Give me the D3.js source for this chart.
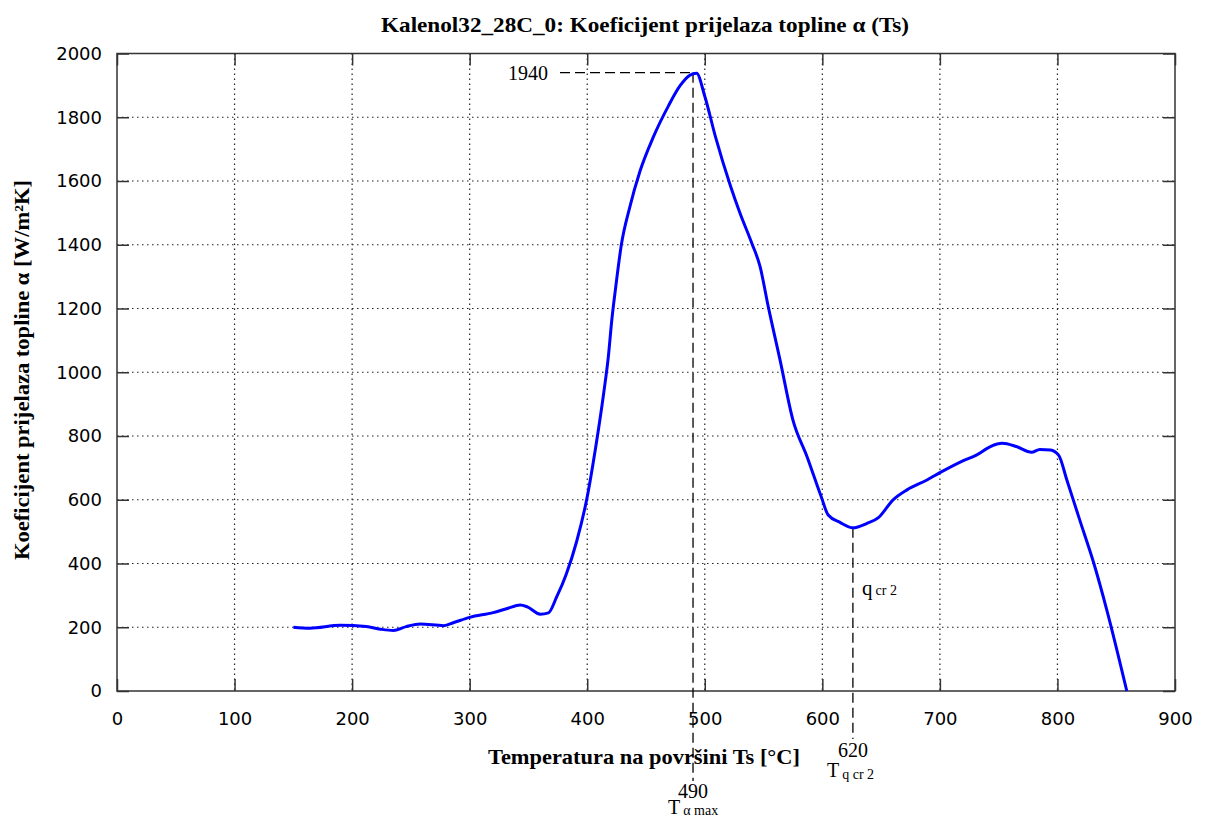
<!DOCTYPE html>
<html>
<head>
<meta charset="utf-8">
<script src="https://cdn.jsdelivr.net/npm/d3@7"></script>
<style>
  html, body { margin: 0; padding: 0; background: #fff; }
  svg { display: block; }
</style>
</head>
<body>
<svg id="chart" width="1208" height="822"></svg>
<script>
// ---- data ----
const temperature = [150,164,190,212,224,235,246,258,278,286,300,320,332,343,349,360,367,374,382,391,400,407,414,418,421,424,429,436,445,456,469,479,487,493,500,509,522,530,540,547,554,564,575,587,599,605,615,626,638,648,660,672,689,700,720,731,743,753,765,778,785,794,801,808,819,831,842,859];
const alpha = [200,197,206,202,194,190,202,210,205,214,231,246,259,270,264,241,245,295,365,469,609,760,934,1050,1167,1260,1399,1515,1632,1736,1835,1899,1931,1938,1866,1740,1583,1499,1405,1332,1206,1039,850,735,610,552,529,512,526,545,599,631,662,685,723,740,767,777,767,749,758,756,740,662,536,400,254,0];
const xTicks = [0,100,200,300,400,500,600,700,800,900];
const yTicks = [0,200,400,600,800,1000,1200,1400,1600,1800,2000];
const alphaMax = 1940, tAlphaMax = 490;
const qcr2Value = 512, tQcr2Pos = 626, tQcr2Label = "620";
const titleText = "Kalenol32_28C_0: Koeficijent prijelaza topline α (Ts)";
const xLabelText = "Temperatura na površini Ts [°C]";
const yLabelText = "Koeficijent prijelaza topline α [W/m²K]";

// ---- layout ----
const L = 117, R = 1175, T = 53.5, B = 691;
const svg = d3.select("#chart");
const x = d3.scaleLinear().domain([0, 900]).range([L, R]);
const y = d3.scaleLinear().domain([0, 2000]).range([B, T]);

const serif = "'Liberation Serif', 'Times New Roman', serif";
const sans = "'DejaVu Sans', Verdana, sans-serif";

// grid
const grid = svg.append("g");
grid.selectAll("line.gx").data(xTicks.slice(1, -1)).enter().append("line")
  .attr("x1", d => x(d)).attr("x2", d => x(d)).attr("y1", T).attr("y2", B)
  .attr("stroke", "#222").attr("stroke-width", 1.2).attr("stroke-dasharray", "1.5,3.5");
grid.selectAll("line.gy").data(yTicks.slice(1, -1)).enter().append("line")
  .attr("y1", d => y(d)).attr("y2", d => y(d)).attr("x1", L).attr("x2", R)
  .attr("stroke", "#222").attr("stroke-width", 1.2).attr("stroke-dasharray", "1.5,3.5");

// axes (ticks inward on all four sides)
const tickLen = 12;
const axB = svg.append("g").attr("transform", `translate(0,${B})`)
  .call(d3.axisBottom(x).tickValues(xTicks).tickSize(-tickLen).tickPadding(21).tickFormat(d3.format("d")));
const axT = svg.append("g").attr("transform", `translate(0,${T})`)
  .call(d3.axisTop(x).tickValues(xTicks).tickSize(-tickLen).tickFormat(""));
const axL = svg.append("g").attr("transform", `translate(${L},0)`)
  .call(d3.axisLeft(y).tickValues(yTicks).tickSize(-tickLen).tickPadding(15).tickFormat(d3.format("d")));
const axR = svg.append("g").attr("transform", `translate(${R},0)`)
  .call(d3.axisRight(y).tickValues(yTicks).tickSize(-tickLen).tickFormat(""));
[axB, axT, axL, axR].forEach(a => {
  a.select(".domain").remove();
  a.selectAll(".tick line").attr("stroke", "#333").attr("stroke-width", 1.5);
  a.selectAll(".tick text").attr("font-family", sans).attr("font-size", 18).attr("fill", "#000");
});
axB.selectAll(".tick text").attr("dy", "0.71em");

// frame
svg.append("rect").attr("x", L).attr("y", T).attr("width", R - L).attr("height", B - T)
  .attr("fill", "none").attr("stroke", "#333").attr("stroke-width", 1.5);

// marker dashed lines
const dash = "10,5";
svg.append("line").attr("x1", 560).attr("x2", x(tAlphaMax)).attr("y1", y(alphaMax)).attr("y2", y(alphaMax))
  .attr("stroke", "#000").attr("stroke-width", 1.3).attr("stroke-dasharray", dash);
svg.append("line").attr("x1", x(tAlphaMax)).attr("x2", x(tAlphaMax)).attr("y1", y(alphaMax)).attr("y2", 781)
  .attr("stroke", "#000").attr("stroke-width", 1.3).attr("stroke-dasharray", dash);
svg.append("line").attr("x1", x(tQcr2Pos)).attr("x2", x(tQcr2Pos)).attr("y1", y(qcr2Value)).attr("y2", 739)
  .attr("stroke", "#000").attr("stroke-width", 1.3).attr("stroke-dasharray", dash);

// curve
const line = d3.line().x((d, i) => x(temperature[i])).y(d => y(d)).curve(d3.curveMonotoneX);
svg.append("path").datum(alpha).attr("d", line)
  .attr("fill", "none").attr("stroke", "#0000ff").attr("stroke-width", 3).attr("stroke-linejoin", "round");

// annotations
svg.append("text").attr("x", 548).attr("y", y(alphaMax) + 7).attr("text-anchor", "end")
  .attr("font-family", serif).attr("font-size", 20).text(String(alphaMax));

const q = svg.append("text").attr("x", 862).attr("y", 595).attr("font-family", serif).attr("font-size", 21);
q.append("tspan").text("q");
q.append("tspan").attr("font-size", 14).attr("dx", 3).text("cr 2");

svg.append("text").attr("x", x(tQcr2Pos)).attr("y", 757).attr("text-anchor", "middle")
  .attr("font-family", serif).attr("font-size", 20).text(tQcr2Label);
const tq = svg.append("text").attr("x", 827).attr("y", 777).attr("font-family", serif).attr("font-size", 20);
tq.append("tspan").text("T");
tq.append("tspan").attr("font-size", 14).attr("dx", 3).attr("dy", 2).text("q cr 2");

svg.append("text").attr("x", x(tAlphaMax)).attr("y", 798).attr("text-anchor", "middle")
  .attr("font-family", serif).attr("font-size", 20).text(String(tAlphaMax));
const ta = svg.append("text").attr("x", 668).attr("y", 814).attr("font-family", serif).attr("font-size", 20);
ta.append("tspan").text("T");
ta.append("tspan").attr("font-size", 14).attr("dx", 3).attr("dy", 1).text("α max");

// title and axis labels
svg.append("text").attr("x", 645).attr("y", 32).attr("text-anchor", "middle")
  .attr("font-family", serif).attr("font-weight", "bold").attr("font-size", 21)
  .attr("textLength", 528).attr("lengthAdjust", "spacingAndGlyphs").text(titleText);
svg.append("text").attr("x", 644).attr("y", 764).attr("text-anchor", "middle")
  .attr("font-family", serif).attr("font-weight", "bold").attr("font-size", 21)
  .attr("textLength", 312).attr("lengthAdjust", "spacingAndGlyphs").text(xLabelText);
svg.append("text").attr("transform", `translate(29,370) rotate(-90)`).attr("text-anchor", "middle")
  .attr("font-family", serif).attr("font-weight", "bold").attr("font-size", 21)
  .attr("textLength", 380).attr("lengthAdjust", "spacingAndGlyphs").text(yLabelText);
</script>
</body>
</html>
